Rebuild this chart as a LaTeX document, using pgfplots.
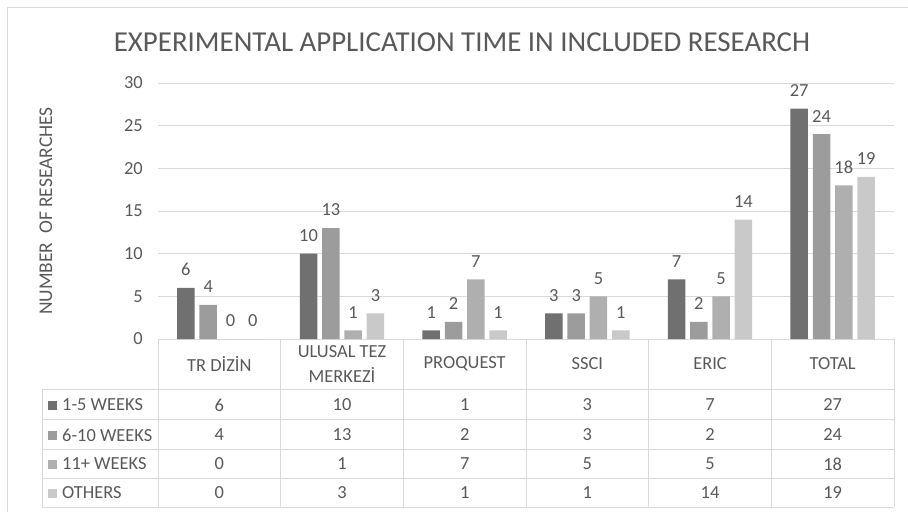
\documentclass[border=0pt]{standalone}
\usepackage{fontspec}
\setmainfont{Carlito}
\usepackage{pgfplots}
\usepackage{pgfplotstable}
\pgfplotsset{compat=1.18}
\definecolor{txt}{HTML}{595959}
\definecolor{gridc}{HTML}{D9D9D9}
\definecolor{cA}{HTML}{707070}
\definecolor{cB}{HTML}{9C9C9C}
\definecolor{cC}{HTML}{AFAFAF}
\definecolor{cD}{HTML}{C9C9C9}

\pgfplotstableread{
x a b c d
0 6 4 0 0
1 10 13 1 3
2 1 2 7 1
3 3 3 5 1
4 7 2 5 14
5 27 24 18 19
}\data

\newcommand{\sm}{\fontsize{18.5}{25}\selectfont}

\begin{document}
\begin{tikzpicture}
\useasboundingbox (0,0) rectangle (908bp,-512bp);
\begin{axis}[
  at={(158bp,-339bp)}, anchor=south west,
  scale only axis, width=736bp, height=256bp,
  xmin=-0.5, xmax=5.5, ymin=0, ymax=30,
  ytick={0,5,...,30},
  xtick=\empty,
  axis line style={draw=none},
  ymajorgrids, grid style={gridc, line width=0.9bp},
  major tick length=0pt,
  ybar=4.8bp, bar width=17.5bp,
  tick label style={font=\sm, text=txt},
  /pgf/number format/assume math mode=true,
  yticklabel style={inner sep=0pt, xshift=-15bp},
  nodes near coords={\pgfmathprintnumber[assume math mode=true]{\pgfplotspointmeta}},
  nodes near coords style={font=\sm, text=txt, inner sep=0pt, anchor=south, yshift=12bp},
  clip=false,
]
\addplot[fill=cA, draw=none] table[x=x,y=a]{\data};
\addplot[fill=cB, draw=none] table[x=x,y=b]{\data};
\addplot[fill=cC, draw=none] table[x=x,y=c]{\data};
\addplot[fill=cD, draw=none] table[x=x,y=d]{\data};
\end{axis}
\begin{scope}[x=1bp, y=-1bp]
  % outer frame
  \draw[gridc, line width=1bp] (7,512) -- (7,7) -- (908,7);
  % title
  \node[font=\fontsize{29}{33}\selectfont, text=txt] at (462,42) {EXPERIMENTAL APPLICATION TIME IN INCLUDED RESEARCH};
  % y label
  \node[font=\fontsize{19.5}{24}\selectfont, text=txt, rotate=90] at (46,211) {NUMBER\ \ OF RESEARCHES};
  % table lines
  \begin{scope}[gridc, line width=0.9bp]
    \foreach \xx in {158,280.67,403.33,526,648.67,771.33,894} {
      \draw (\xx,339) -- (\xx,507);
    }
    \draw (42,389) -- (42,507);
    \foreach \yy in {389,419,449,478,507} {
      \draw (42,\yy) -- (894,\yy);
    }
  \end{scope}
  % header
  \foreach \k/\nm in {0/TR DİZİN, 1/{ULUSAL TEZ\\MERKEZİ}, 2/PROQUEST, 3/SSCI, 4/ERIC, 5/TOTAL} {
    \node[font=\sm, text=txt, align=center] at ({219.33+122.67*\k},364) {\nm};
  }
  % legend column
  \foreach \col/\yy/\lab in {cA/405/1-5 WEEKS, cB/435/6-10 WEEKS, cC/464/11+ WEEKS, cD/493/OTHERS} {
    \fill[\col] (48.3,\yy-4.5) rectangle (57.3,\yy+4.5);
    \node[font=\sm, text=txt, anchor=west, inner sep=0pt] at (62,\yy) {\lab};
  }
  % values
  \foreach \k in {0,...,5} {
    \foreach \c/\yy in {a/405, b/435, c/464, d/493} {
      \pgfplotstablegetelem{\k}{\c}\of\data
      \node[font=\sm, text=txt] at ({219.33+122.67*\k},\yy) {\pgfplotsretval};
    }
  }
\end{scope}
\end{tikzpicture}
\end{document}
